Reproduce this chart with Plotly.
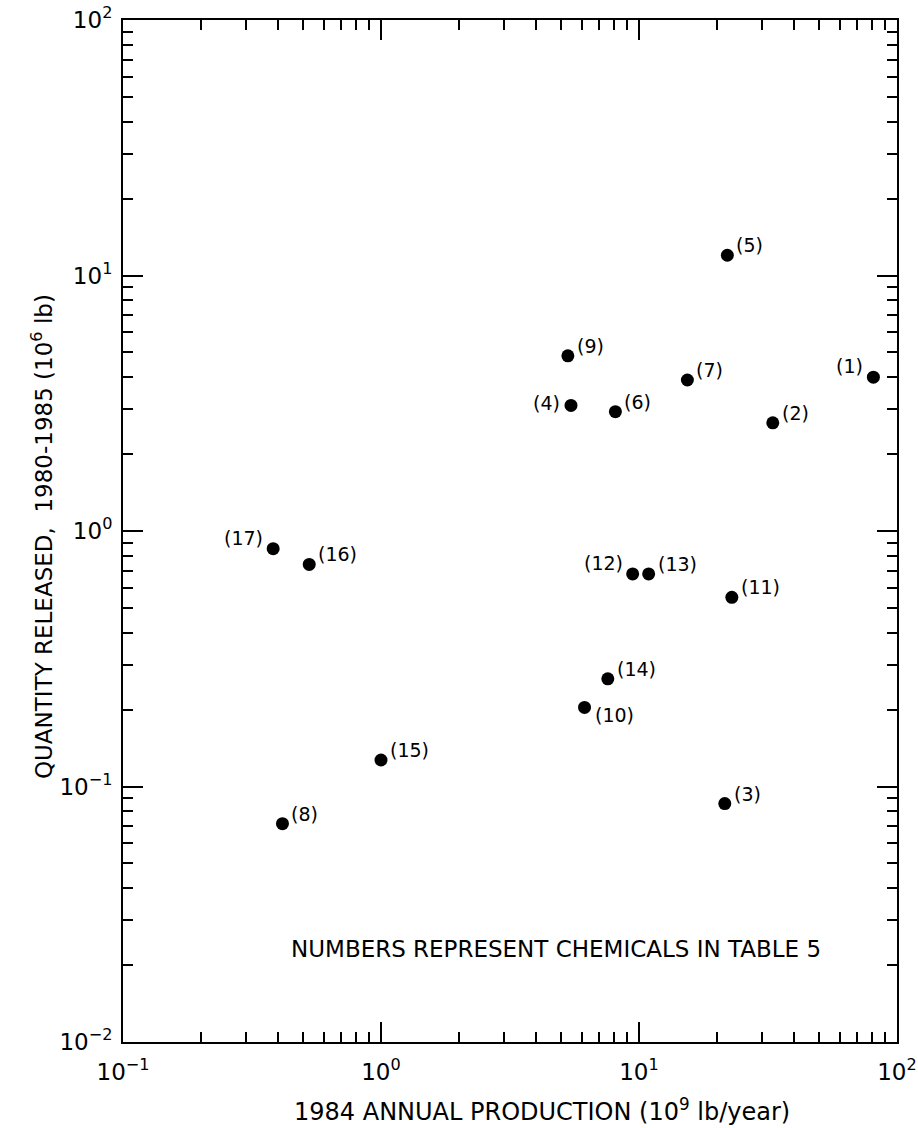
import numpy as np
import plotly.graph_objects as go

# ---- data ----
chem_labels = ["(1)", "(2)", "(3)", "(4)", "(5)", "(6)", "(7)", "(8)", "(9)",
               "(10)", "(11)", "(12)", "(13)", "(14)", "(15)", "(16)", "(17)"]
production = [81.0, 33.0, 21.5, 5.45, 22.0, 8.1, 15.4, 0.415, 5.3,
              6.15, 22.9, 9.45, 10.9, 7.57, 1.0, 0.527, 0.382]
released = [4.0, 2.65, 0.0857, 3.1, 12.0, 2.93, 3.9, 0.0715, 4.85,
            0.204, 0.55, 0.679, 0.679, 0.264, 0.127, 0.74, 0.853]
label_pos = ["ul", "ur", "ur", "l", "ur", "ur", "ur", "ur", "ur",
             "dr", "ur", "ul", "ur", "ur", "ur", "ur", "ul"]

x_tickvals = [0.1, 1, 10, 100]
x_ticktext = ["10<sup>−1</sup>", "10<sup>0</sup>", "10<sup>1</sup>", "10<sup>2</sup>"]
y_tickvals = [0.01, 0.1, 1, 10, 100]
y_ticktext = ["10<sup>−2</sup>", "10<sup>−1</sup>", "10<sup>0</sup>", "10<sup>1</sup>", "10<sup>2</sup>"]

FONT = "DejaVu Sans"

def minor_vals(lo, hi):
    vals = []
    for e in range(lo, hi):
        for m in range(2, 10):
            vals.append(m * 10.0 ** e)
    return vals

fig = go.Figure()
fig.add_trace(go.Scatter(
    x=production, y=released, mode="markers",
    marker=dict(size=13, color="black"),
    showlegend=False, hoverinfo="skip"))

style = {
    "ur": dict(xanchor="left", xshift=7, yshift=10),
    "ul": dict(xanchor="right", xshift=-8, yshift=11),
    "l": dict(xanchor="right", xshift=-9, yshift=2),
    "dr": dict(xanchor="left", xshift=8, yshift=-8),
}
annotations = []
for lab, xv, yv, p in zip(chem_labels, production, released, label_pos):
    s = style[p]
    annotations.append(dict(
        x=np.log10(xv), y=np.log10(yv), xref="x", yref="y", text=lab,
        showarrow=False, yanchor="middle", font=dict(family=FONT, size=19, color="black"),
        **s))

annotations.append(dict(
    x=0.559, y=0.091, xref="paper", yref="paper",
    text="NUMBERS REPRESENT CHEMICALS IN TABLE 5", showarrow=False,
    xanchor="center", yanchor="middle",
    font=dict(family=FONT, size=23, color="black")))
annotations.append(dict(
    x=0.541, y=-0.0665, xref="paper", yref="paper",
    text="1984 ANNUAL PRODUCTION (10<sup>9</sup> lb/year)", showarrow=False,
    xanchor="center", yanchor="middle",
    font=dict(family=FONT, size=24, color="black")))
annotations.append(dict(
    x=-0.1047, y=0.495, xref="paper", yref="paper",
    text="QUANTITY RELEASED,  1980-1985 (10<sup>6</sup> lb)", showarrow=False,
    xanchor="center", yanchor="middle", textangle=-90,
    font=dict(family=FONT, size=23, color="black")))

axis_common = dict(
    type="log", showline=True, linewidth=2, linecolor="black", mirror="ticks",
    ticks="inside", ticklen=20, tickwidth=2, tickcolor="black",
    showgrid=False, zeroline=False,
    tickfont=dict(family=FONT, size=23, color="black"),
)

fig.update_xaxes(
    range=[-1, 2], tickmode="array", tickvals=x_tickvals, ticktext=x_ticktext,
    ticklabelstandoff=8,
    minor=dict(tickmode="array", tickvals=minor_vals(-1, 2), ticks="inside",
               ticklen=10, tickwidth=1.5, tickcolor="black", showgrid=False),
    **axis_common)
fig.update_yaxes(
    range=[-2, 2], tickmode="array", tickvals=y_tickvals, ticktext=y_ticktext,
    ticklabelstandoff=4,
    minor=dict(tickmode="array", tickvals=minor_vals(-2, 2), ticks="inside",
               ticklen=10, tickwidth=1.5, tickcolor="black", showgrid=False),
    **axis_common)

fig.update_layout(
    width=918, height=1128,
    margin=dict(l=123, r=21, t=20, b=86, autoexpand=False),
    paper_bgcolor="white", plot_bgcolor="white",
    font=dict(family=FONT, color="black"),
    annotations=annotations,
)

fig.write_html("out.html")
